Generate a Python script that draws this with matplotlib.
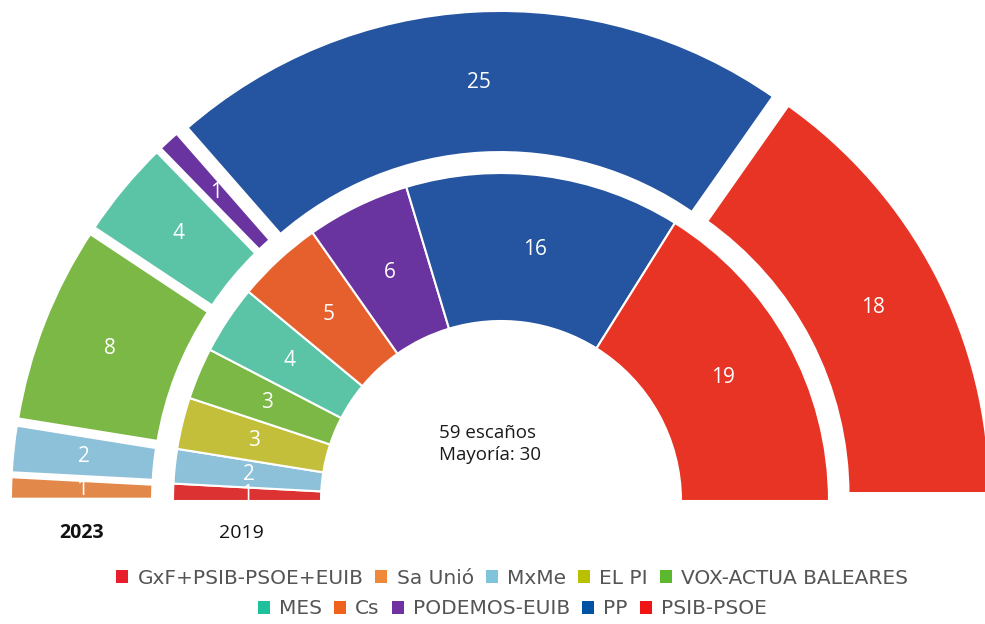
import numpy as np
import matplotlib.pyplot as plt
from matplotlib.patches import Wedge, Patch

# seats, left to right around the hemicycle
parties_2023 = ["Sa Unió", "MxMe", "VOX-ACTUA BALEARES", "MES", "PODEMOS-EUIB", "PP", "PSIB-PSOE"]
seats_2023 = [1, 2, 8, 4, 1, 25, 18]

parties_2019 = ["GxF+PSIB-PSOE+EUIB", "MxMe", "EL PI", "VOX-ACTUA BALEARES", "MES", "Cs",
                "PODEMOS-EUIB", "PP", "PSIB-PSOE"]
seats_2019 = [1, 2, 3, 3, 4, 5, 6, 16, 19]

legend_order = ["GxF+PSIB-PSOE+EUIB", "Sa Unió", "MxMe", "EL PI", "VOX-ACTUA BALEARES",
                "MES", "Cs", "PODEMOS-EUIB", "PP", "PSIB-PSOE"]

colors = {
    "GxF+PSIB-PSOE+EUIB": "#dd3232",
    "Sa Unió": "#e2884a",
    "MxMe": "#8dc0d9",
    "EL PI": "#c3bf3b",
    "VOX-ACTUA BALEARES": "#7bb845",
    "MES": "#5bc4a7",
    "Cs": "#e5602c",
    "PODEMOS-EUIB": "#6a34a0",
    "PP": "#2554a0",
    "PSIB-PSOE": "#e83424",
}
legend_colors = {
    "GxF+PSIB-PSOE+EUIB": "#e81e2d",
    "Sa Unió": "#f0883a",
    "MxMe": "#80c4dc",
    "EL PI": "#b8c000",
    "VOX-ACTUA BALEARES": "#5cb82c",
    "MES": "#1ec19b",
    "Cs": "#f0621c",
    "PODEMOS-EUIB": "#7032a0",
    "PP": "#0052a2",
    "PSIB-PSOE": "#f01414",
}

W, H = 985, 624
fig = plt.figure(figsize=(W / 100, H / 100), dpi=100)
ax = fig.add_axes([0, 0, 1, 1])
ax.set_xlim(0, W)
ax.set_ylim(0, H)
ax.set_aspect("equal")
ax.axis("off")

cx, cy = 501, H - 501
num_font = "Open Sans"


def ring(parties, seats, r_out, r_in, explode, lw):
    total = sum(seats)
    start = 180.0
    for name, s in zip(parties, seats):
        span = 180.0 * s / total
        t2, t1 = start, start - span
        mid = np.radians((t1 + t2) / 2)
        ox = cx + explode * np.cos(mid)
        oy = cy + explode * np.sin(mid)
        ax.add_patch(Wedge((ox, oy), r_out, t1, t2, width=r_out - r_in,
                           facecolor=colors[name], edgecolor="white", linewidth=lw))
        rm = (r_out + r_in) / 2
        ax.text(ox + rm * np.cos(mid), oy + rm * np.sin(mid), str(s),
                color="white", fontsize=15, ha="center", va="center", family=num_font)
        start = t1


ring(parties_2023, seats_2023, 479, 334, 13, 4.3)
ring(parties_2019, seats_2019, 328, 180, 0, 1.5)

ax.text(439, H - 444, "59 escaños\nMayoría: 30", fontsize=13.5, color="#1a1a1a",
        ha="left", va="center", family=num_font, linespacing=1.25)
ax.text(82, H - 533, "2023", fontsize=14, fontweight="bold", color="#111111",
        ha="center", va="center", family=num_font)
ax.text(241, H - 533, "2019", fontsize=14, color="#111111",
        ha="center", va="center", family=num_font)

handles = [Patch(facecolor=legend_colors[p], edgecolor="none", label=p) for p in legend_order]
leg_font = {"family": "DejaVu Sans", "size": 14.5}
for row, yy in [(handles[:5], 1 - 578 / H), (handles[5:], 1 - 609 / H)]:
    leg = fig.legend(handles=row, loc="center", bbox_to_anchor=(0.52, yy), ncol=5,
                     frameon=False, prop=leg_font, handlelength=0.6, handleheight=0.6,
                     handletextpad=0.45, columnspacing=0.6, borderaxespad=0)
    for t in leg.get_texts():
        t.set_color("#555555")

fig.savefig("out.png", dpi=100)
